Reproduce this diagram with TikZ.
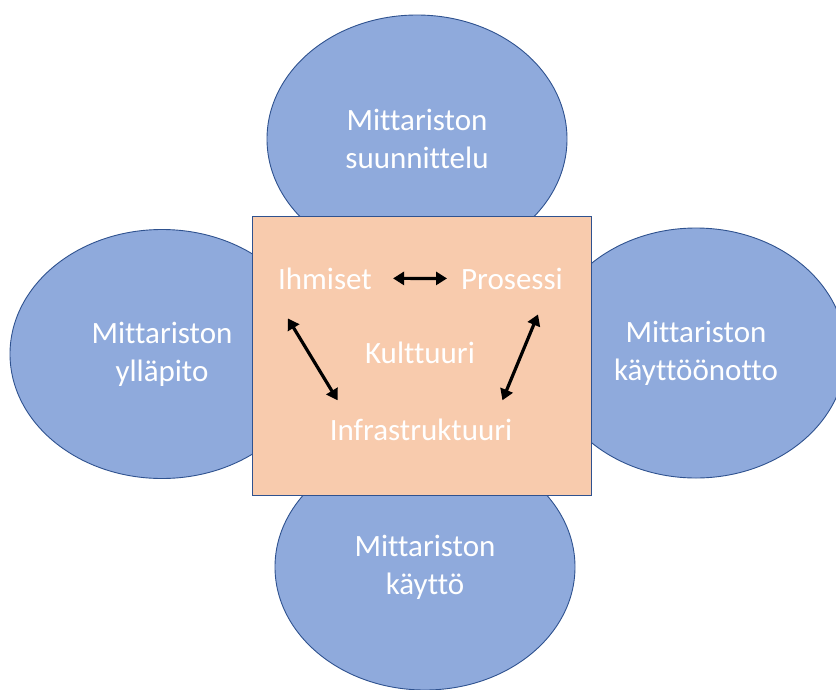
\documentclass[tikz,border=0pt]{standalone}
\usepackage{fontspec}
\setmainfont{Carlito}[Ligatures=NoCommon]
\usetikzlibrary{shapes.geometric,arrows.meta,calc}
\definecolor{blobfill}{HTML}{8FAADC}
\definecolor{blobline}{HTML}{2F528F}
\definecolor{corefill}{HTML}{F8CBAD}
\begin{document}
\begin{tikzpicture}[x=1pt,y=-1pt,
  phase/.style={ellipse, draw=blobline, line width=0.9pt, fill=blobfill,
    inner sep=0pt, minimum width=300pt, minimum height=248pt,
    text=white, align=center, font=\fontsize{31}{38}\selectfont},
  core/.style={draw=blobline, line width=1pt, fill=corefill,
    minimum width=339pt, minimum height=279pt, inner sep=0pt},
  term/.style={text=white, inner sep=0pt, anchor=base,
    font=\fontsize{31}{38}\selectfont},
  link/.style={{Triangle[length=11pt,width=13pt]}-{Triangle[length=11pt,width=13pt]},
    line width=3.2pt, black}]
\useasboundingbox (0,0) rectangle (836,689);

% four phases around the core
\node[phase] (plan) at (417,139) {Mittariston\\suunnittelu};
\node[phase, minimum width=304pt, minimum height=249pt] (upkeep) at (162,354) {Mittariston\\ylläpito};
\node[phase, minimum height=250pt] (deploy) at (696,353) {Mittariston\\käyttöönotto};
\node[phase, minimum height=246pt] (use) at (425,567) {Mittariston\\käyttö};

% core square
\node[core] (core) at (421.5,355.5) {};

% core terms
\node[term] (people) at (325,289) {Ihmiset};
\node[term] (process) at (512,289) {Prosessi};
\node[term] (culture) at (420,363) {Kulttuuri};
\node[term] (infra) at (421,440) {Infrastruktuuri};

% two-way links
\draw[link, shorten <=21pt, shorten >=14pt] (people.east) -- (process.west);
\draw[link] ($(people.south west)+(10,29)$) -- ($(infra.north west)+(8,-18)$);
\draw[link] ($(process.south east)+(-25,25)$) -- ($(infra.north east)+(-10,-18)$);
\end{tikzpicture}
\end{document}
